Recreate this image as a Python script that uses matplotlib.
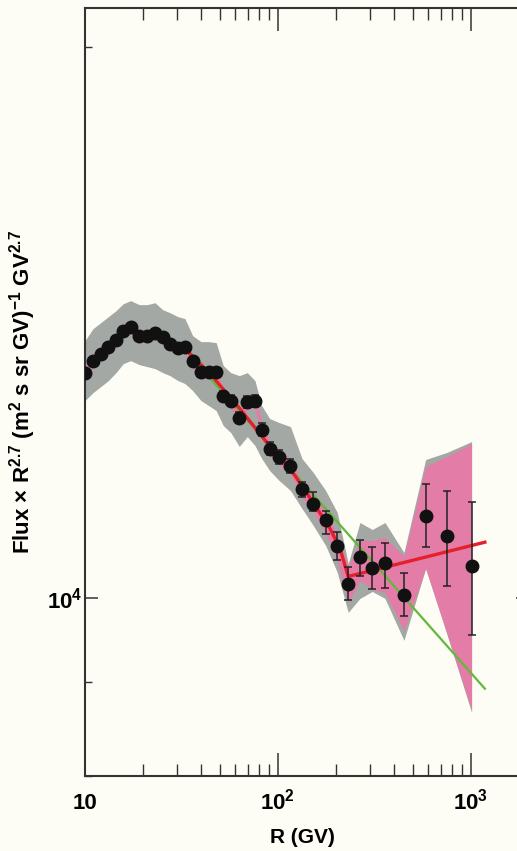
import numpy as np
import matplotlib
matplotlib.use('Agg')
import matplotlib.pyplot as plt
from matplotlib.ticker import NullFormatter

plt.rcParams['font.family'] = 'Liberation Sans'
plt.rcParams['font.weight'] = 'bold'
plt.rcParams['mathtext.fontset'] = 'custom'
plt.rcParams['mathtext.rm'] = 'Liberation Sans:bold'
plt.rcParams['mathtext.it'] = 'Liberation Sans:bold:italic'
plt.rcParams['mathtext.bf'] = 'Liberation Sans:bold'

# ------------------------------------------ data
rigidity = [10.0, 11.0, 12.06, 13.21, 14.48, 15.79, 17.25, 19.11, 21.03, 23.05,
            25.27, 27.56, 30.33, 32.97, 36.14, 39.90, 43.75, 47.84, 52.07, 56.95,
            63.02, 69.34, 76.01, 82.33, 90.57, 101.4, 116.1, 133.2, 152.4, 176.7,
            203.0, 231.3, 266.0, 308.0, 358.5, 449.7, 582.6, 748.4, 1008]
flux = [13273, 13482, 13601, 13722, 13843, 14000, 14058, 13912, 13903, 13953,
        13886, 13765, 13696, 13710, 13482, 13286, 13286, 13286, 12895, 12822,
        12551, 12795, 12822, 12364, 12072, 11941, 11810, 11477, 11263, 11029,
        10675, 10186, 10528, 10384, 10456, 10038, 11098, 10810, 10414]
err_hi = [60, 60, 60, 60, 60, 60, 60, 60, 60, 65,
          65, 65, 70, 70, 70, 75, 75, 80, 80, 85,
          90, 95, 95, 100, 100, 105, 105, 95, 165, 139,
          189, 215, 237, 281, 268, 285, 451, 632, 881]
err_lo = [60, 60, 60, 60, 60, 60, 60, 60, 60, 65,
          65, 65, 70, 70, 70, 75, 75, 80, 80, 85,
          90, 95, 95, 100, 100, 105, 105, 121, 105, 179,
          186, 202, 248, 261, 321, 261, 433, 658, 864]

# total uncertainty band (grey)
gray_hi = [13826, 14035, 14141, 14248, 14356, 14483, 14538, 14465, 14465, 14501,
           14374, 14320, 14248, 14213, 13912, 13808, 13808, 13791, 13398, 13281,
           13231, 13281, 13148, 12742, 12536, 12473, 12410, 11922, 11714, 11452,
           11140, 10449, 11001, 10905, 11001, 10594, 11907, 12012, 12179]
gray_lo = [12822, 12951, 13049, 13148, 13281, 13432, 13482, 13415, 13381, 13348,
           13281, 13231, 13148, 13099, 12984, 12822, 12742, 12662, 12426, 12317,
           12104, 12255, 12118, 11922, 11743, 11597, 11452, 11196, 10960, 10688,
           10332, 9826, 10000, 10088, 10000, 9486, 10384, 9570, 8666]
# pink band
pink_hi = [13380, 13590, 13710, 13830, 13955, 14110, 14170, 14025, 14015, 14065,
           13995, 13875, 13805, 13820, 13590, 13395, 13395, 13395, 13000, 12925,
           12670, 12910, 12940, 12480, 12185, 12055, 11925, 11572, 11428, 11168,
           10823, 10410, 10755, 10755, 10796, 10541, 11803, 11952, 12148]
pink_lo = [13170, 13375, 13490, 13610, 13730, 13890, 13945, 13800, 13790, 13840,
           13775, 13655, 13585, 13600, 13375, 13180, 13180, 13180, 12790, 12720,
           12430, 12680, 12705, 12250, 11960, 11830, 11695, 11356, 11158, 10850,
           10489, 9950, 10229, 10114, 10076, 9606, 10384, 9582, 8688]

# broken fit (red) and single power law (green)
fit_R = [33.77, 44.43, 63.55, 90.90, 122.5, 155.5, 186.0, 209.5, 231.3, 1181]
fit_F = [13652, 13264, 12690, 12104, 11670, 11240, 10918, 10648, 10280, 10732]
pl_R = [31.06, 1181]
pl_F = [13766, 8928]

x_ticks = [10, 100, 1000]
x_ticklabels = ['10', r'$\mathrm{10^2}$', r'$\mathrm{10^3}$']
y_ticks = [1e4]
y_ticklabels = [r'$\mathrm{10^4}$']

# ------------------------------------------ plot
bg = '#fdfdf6'
fig = plt.figure(figsize=(5.17, 8.51), dpi=100)
fig.patch.set_facecolor(bg)
ax = fig.add_axes([85/517, 75/851, 444/517, 768/851])
ax.set_facecolor(bg)

ax.fill_between(rigidity, gray_lo, gray_hi, color='#a3a8a4', lw=0, zorder=1)
ax.fill_between(rigidity, pink_lo, pink_hi, color='#e47ca8', lw=0, zorder=2)
ax.plot(pl_R, pl_F, color='#62b83c', lw=1.6, zorder=3)
ax.plot(fit_R, fit_F, color='#e6202b', lw=2.4, zorder=4)
ax.errorbar(rigidity, flux, yerr=[err_lo, err_hi], fmt='o', ms=9, color='#111111',
            ecolor='#222222', elinewidth=1.1, capsize=3, capthick=1.1, zorder=5)

ax.set_xscale('log'); ax.set_yscale('log')
ax.set_xlim(10, 2000)
ax.set_ylim(8000, 21000)

ax.set_xticks(x_ticks)
ax.set_xticklabels(x_ticklabels, fontsize=16, fontweight='bold')
ax.set_yticks(y_ticks)
ax.set_yticklabels(y_ticklabels, fontsize=16, fontweight='bold')
ax.yaxis.set_minor_formatter(NullFormatter())
ax.xaxis.set_minor_formatter(NullFormatter())
for lbl in ax.get_xticklabels():
    lbl.set_va('baseline')

ax.tick_params(axis='x', which='major', direction='in', length=16.5, width=1.1,
               top=True, bottom=True, pad=24, colors='#333333', labelcolor='black')
ax.tick_params(axis='x', which='minor', direction='in', length=8.6, width=1.0,
               top=True, bottom=True, colors='#333333')
ax.tick_params(axis='y', which='major', direction='in', length=9.4, width=1.1,
               left=True, right=True, pad=2, colors='#333333', labelcolor='black')
ax.tick_params(axis='y', which='minor', direction='in', length=5, width=1.0,
               left=True, right=True, colors='#333333')
for s in ax.spines.values():
    s.set_linewidth(1.5); s.set_color('#333333')
ax.spines['right'].set_visible(False)  # lies past the cropped edge

ax.set_xlabel('R (GV)', fontsize=15, fontweight='bold')
ax.xaxis.set_label_coords(0.489, -0.0677)
ax.set_ylabel(r'Flux $\times$ R$^{2.7}$ (m$^2$ s sr GV)$^{-1}$ GV$^{2.7}$',
              fontsize=16, fontweight='bold')
ax.yaxis.set_label_coords(-0.106, 0.5)

fig.savefig('out.png', dpi=100, facecolor=bg)
